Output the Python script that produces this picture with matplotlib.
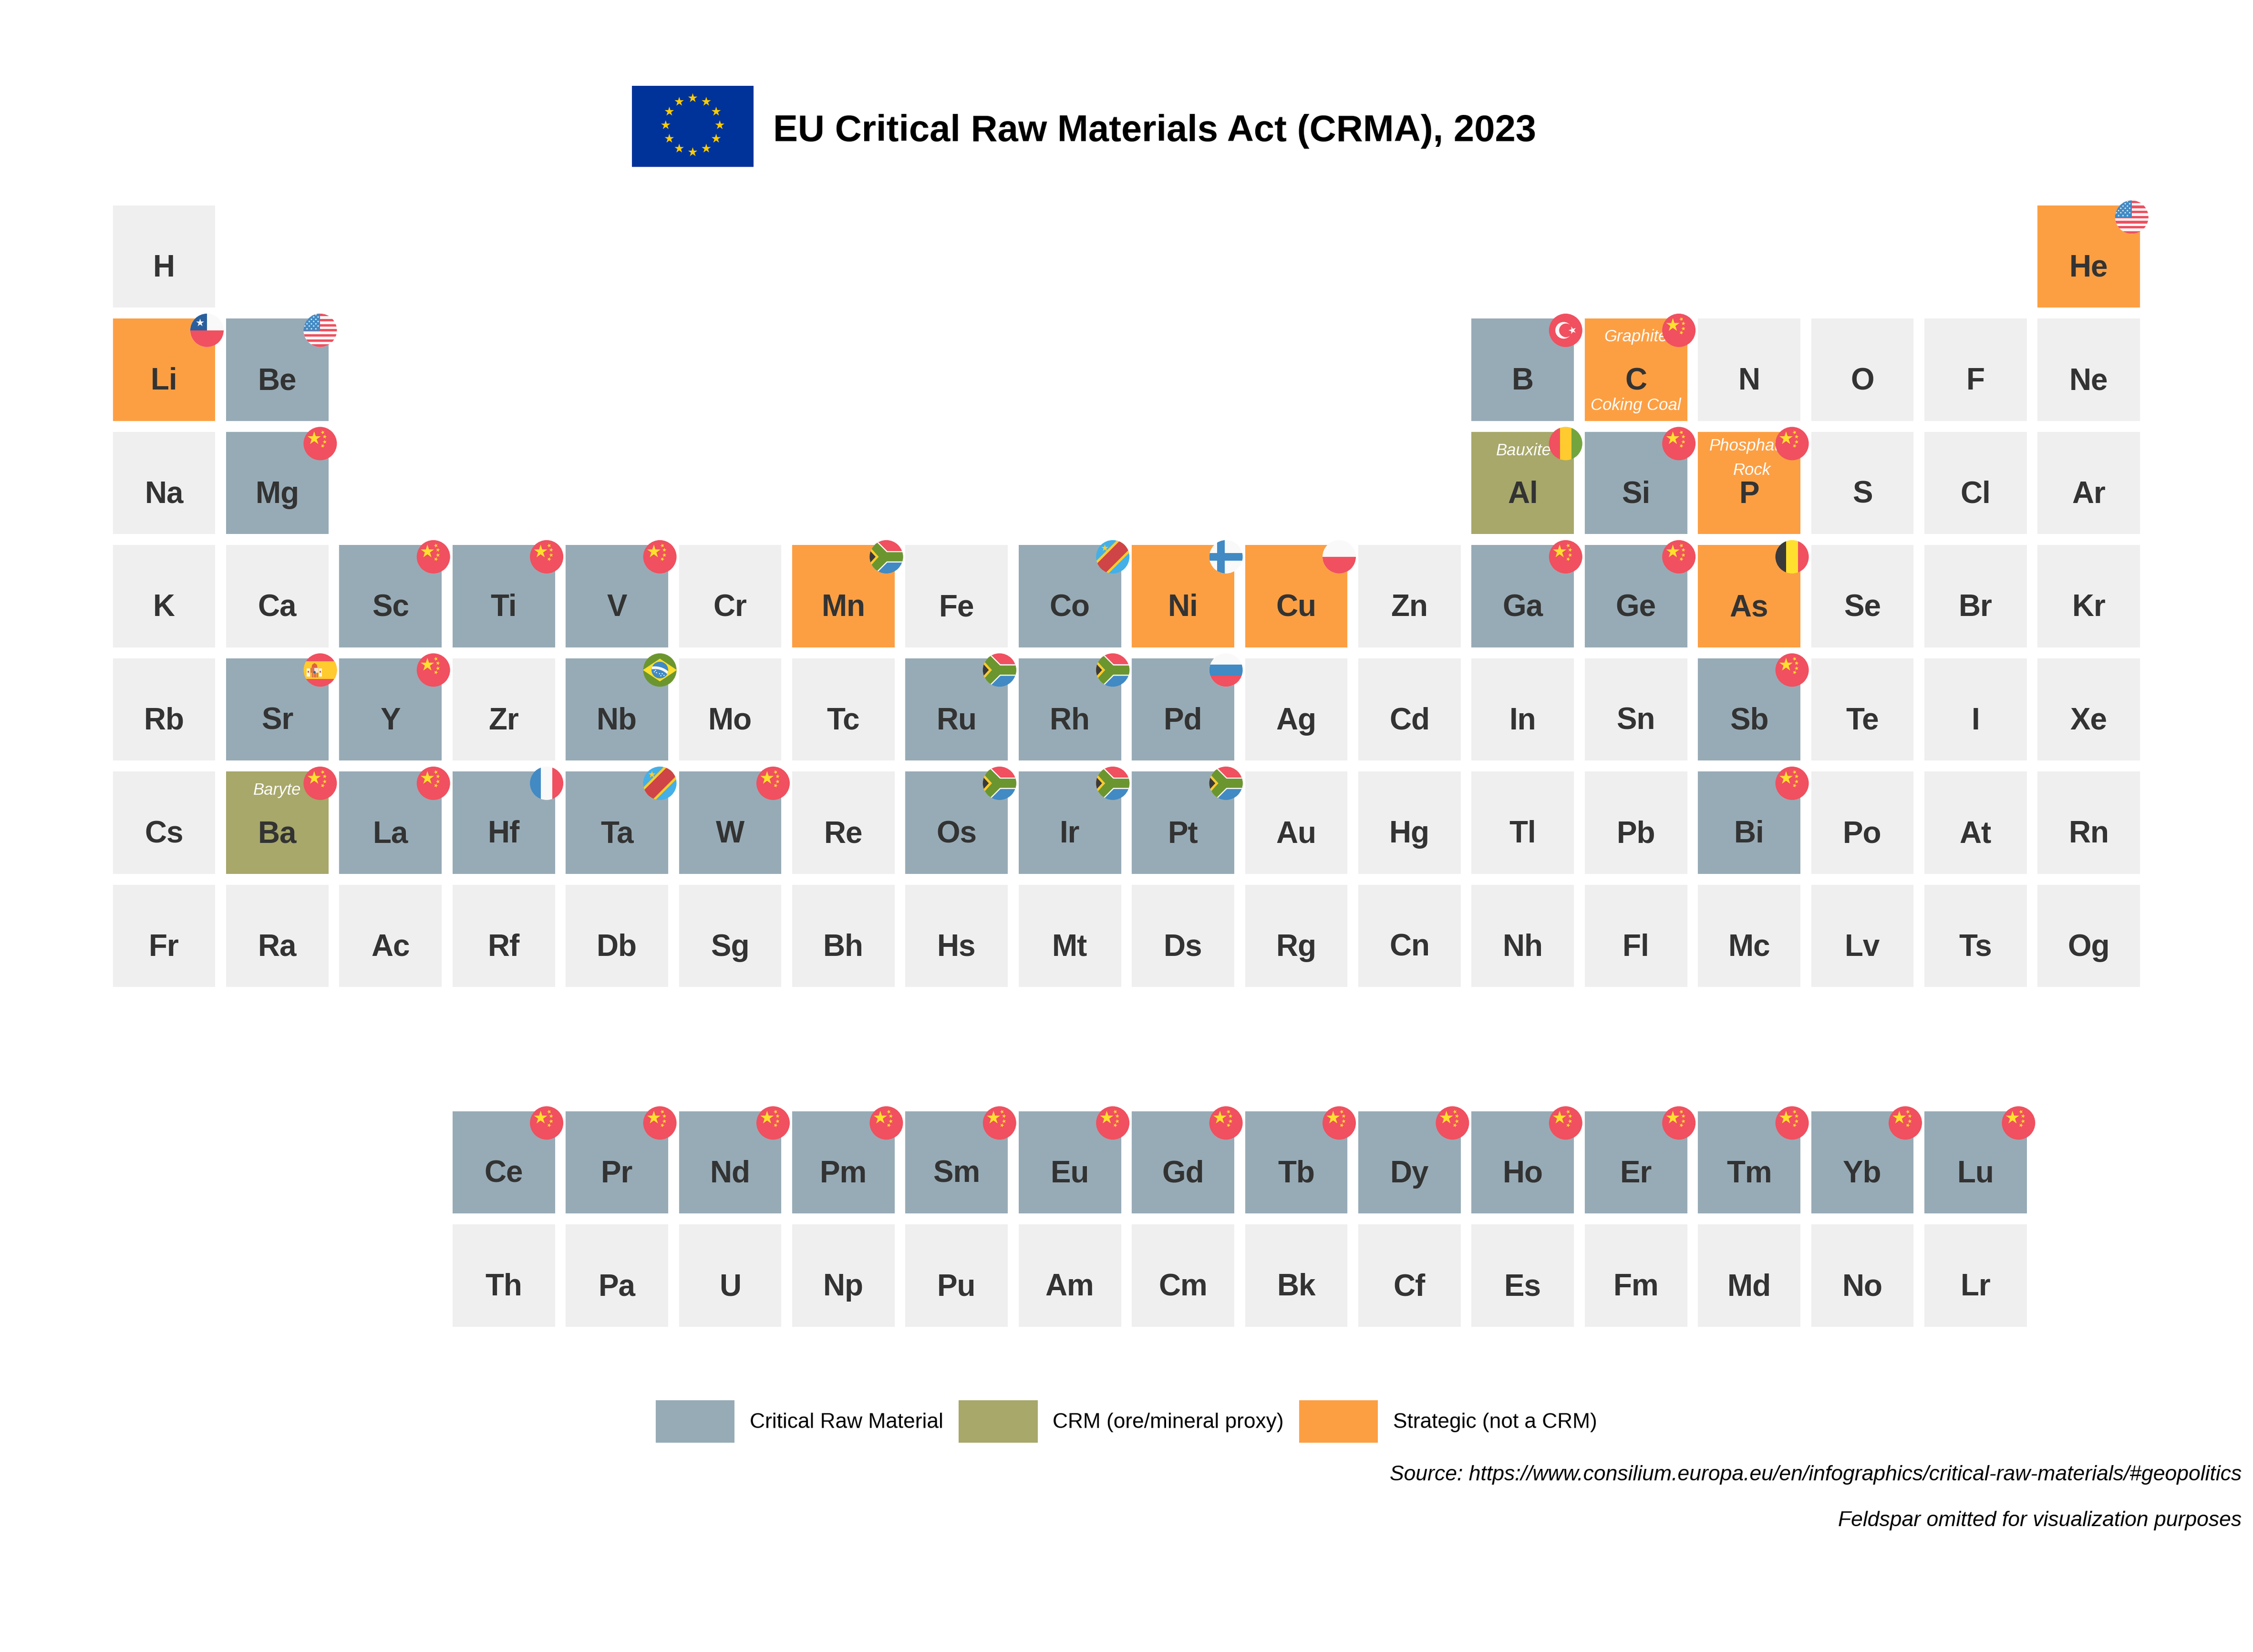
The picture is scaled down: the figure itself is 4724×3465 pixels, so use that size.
import numpy as np
import matplotlib
matplotlib.use("Agg")
import matplotlib.pyplot as plt
from matplotlib.patches import Rectangle, Circle, Polygon, Wedge, Patch
from matplotlib.lines import Line2D
from matplotlib.transforms import Affine2D

plt.rcParams['font.family'] = ['Liberation Sans', 'DejaVu Sans']

# ---------- data ----------
title = "EU Critical Raw Materials Act (CRMA), 2023"
source_lines = ["Source: https://www.consilium.europa.eu/en/infographics/critical-raw-materials/#geopolitics",
                "Feldspar omitted for visualization purposes"]
period_1 = ["H", "He"]
period_2 = ["Li", "Be", "B", "C", "N", "O", "F", "Ne"]
period_3 = ["Na", "Mg", "Al", "Si", "P", "S", "Cl", "Ar"]
period_4 = ["K", "Ca", "Sc", "Ti", "V", "Cr", "Mn", "Fe", "Co", "Ni", "Cu", "Zn", "Ga", "Ge", "As", "Se", "Br", "Kr"]
period_5 = ["Rb", "Sr", "Y", "Zr", "Nb", "Mo", "Tc", "Ru", "Rh", "Pd", "Ag", "Cd", "In", "Sn", "Sb", "Te", "I", "Xe"]
period_6 = ["Cs", "Ba", "La", "Hf", "Ta", "W", "Re", "Os", "Ir", "Pt", "Au", "Hg", "Tl", "Pb", "Bi", "Po", "At", "Rn"]
period_7 = ["Fr", "Ra", "Ac", "Rf", "Db", "Sg", "Bh", "Hs", "Mt", "Ds", "Rg", "Cn", "Nh", "Fl", "Mc", "Lv", "Ts", "Og"]
lanthanides = ["Ce", "Pr", "Nd", "Pm", "Sm", "Eu", "Gd", "Tb", "Dy", "Ho", "Er", "Tm", "Yb", "Lu"]
actinides = ["Th", "Pa", "U", "Np", "Pu", "Am", "Cm", "Bk", "Cf", "Es", "Fm", "Md", "No", "Lr"]

crm = ["Be", "B", "Mg", "Si", "Sc", "Ti", "V", "Co", "Ga", "Ge", "Sr", "Y", "Nb", "Ru", "Rh", "Pd", "Sb",
       "La", "Hf", "Ta", "W", "Os", "Ir", "Pt", "Bi"] + lanthanides
proxy = ["Al", "Ba"]
strategic = ["He", "Li", "C", "P", "Mn", "Ni", "Cu", "As"]

legend_labels = ["Critical Raw Material", "CRM (ore/mineral proxy)", "Strategic (not a CRM)"]

sublabels = {"C": ["Graphite", "Coking Coal"], "Al": ["Bauxite"], "P": ["Phosphate", "Rock"], "Ba": ["Baryte"]}

flag_china = ["C", "Mg", "Si", "P", "Sc", "Ti", "V", "Ga", "Ge", "Y", "Sb", "Ba", "La", "W", "Bi"] + lanthanides
flag_usa = ["He", "Be"]
flag_chile = ["Li"]
flag_turkey = ["B"]
flag_guinea = ["Al"]
flag_south_africa = ["Mn", "Ru", "Rh", "Os", "Ir", "Pt"]
flag_drc = ["Co", "Ta"]
flag_finland = ["Ni"]
flag_poland = ["Cu"]
flag_belgium = ["As"]
flag_spain = ["Sr"]
flag_brazil = ["Nb"]
flag_russia = ["Pd"]
flag_france = ["Hf"]

# ---------- styles ----------
C_CRM, C_PROXY, C_STRAT, C_NONE = "#97ABB6", "#A7A86A", "#FC9F43", "#EFEFEF"
RED, BLUE, YEL, GOLD, GREEN, WHITE, DARK = "#F0505F", "#418AC4", "#FFE02E", "#FFCB2E", "#6B962F", "#F9F9F9", "#3A3A3A"
W_PX, H_PX = 4724, 3465
DPI = 300
PITCH_X, PITCH_Y = 237.4, 237.5     # pixels per grid unit
X0, Y0 = 106.6, 300.5                # pixel position of grid (0, 0)
CELL = 0.905
R = 0.1474
FLAG_DX, FLAG_DY = 0.379, -0.348
SUB_OFFSETS = {"Graphite": -0.2526, "Coking Coal": 0.355, "Bauxite": -0.245,
               "Phosphate": -0.285, "Rock": -0.072, "Baryte": -0.245}
SUB_SHIFT = {"Rock": 0.025, "Bauxite": 0.01}
SYMBOL_SIZE = 15.3
LEGEND_SIZE = 10.62
SOURCE_SIZE = 10.68

fig = plt.figure(figsize=(W_PX / DPI, H_PX / DPI), dpi=DPI, facecolor="white")
ax = fig.add_axes([0, 0, 1, 1])
ax.set_xlim(-X0 / PITCH_X, (W_PX - X0) / PITCH_X)
ax.set_ylim((H_PX - Y0) / PITCH_Y, -Y0 / PITCH_Y)
ax.axis("off")

# ---------- grid ----------
positions = {}
positions[period_1[0]] = (1, 1)
positions[period_1[1]] = (18, 1)
for row, syms in ((2, period_2), (3, period_3)):
    for s, c in zip(syms, [1, 2, 13, 14, 15, 16, 17, 18]):
        positions[s] = (c, row)
for row, syms in ((4, period_4), (5, period_5), (6, period_6), (7, period_7)):
    for c, s in enumerate(syms, start=1):
        positions[s] = (c, row)
for row, syms in ((9, lanthanides), (10, actinides)):
    for c, s in enumerate(syms, start=4):
        positions[s] = (c, row)


def cell_colour(s):
    if s in crm:
        return C_CRM
    if s in proxy:
        return C_PROXY
    if s in strategic:
        return C_STRAT
    return C_NONE


for s, (c, r) in positions.items():
    ax.add_patch(Rectangle((c - CELL / 2, r - CELL / 2), CELL, CELL, fc=cell_colour(s), ec="none", zorder=1))
    ax.text(c, r + 0.175, s, ha="center", va="baseline", fontsize=SYMBOL_SIZE, fontweight="bold",
            color="#333333", zorder=3)

for s, lines in sublabels.items():
    c, r = positions[s]
    for line in lines:
        ax.text(c + SUB_SHIFT.get(line, 0), r + SUB_OFFSETS[line], line, ha="center", va="baseline", fontsize=8.35,
                style="italic", color="white", zorder=2)


# ---------- flags ----------
def star_xy(cx, cy, r, rot=90.0):
    a = np.deg2rad(rot + np.arange(10) * 36.0)
    rad = np.where(np.arange(10) % 2 == 0, r, r * 0.382)
    return np.column_stack([cx + rad * np.cos(a), cy + rad * np.sin(a)])


class Flag:
    def __init__(self, s):
        c, r = positions[s]
        self.t = Affine2D().scale(R, -R).translate(c + FLAG_DX, r + FLAG_DY) + ax.transData
        self.clip = Circle((0, 0), 1.0, transform=self.t)

    def add(self, p):
        p.set_transform(self.t)
        p.set_zorder(5)
        ax.add_artist(p)
        p.set_clip_path(self.clip)
        return p

    def bg(self, col):
        self.add(Rectangle((-1.1, -1.1), 2.2, 2.2, fc=col, ec="none"))

    def rect(self, x0, x1, y0, y1, col):
        self.add(Rectangle((x0, y0), x1 - x0, y1 - y0, fc=col, ec="none"))

    def star(self, x, y, r, col, rot=90.0):
        self.add(Polygon(star_xy(x, y, r, rot), closed=True, fc=col, ec="none"))

    def poly(self, pts, col):
        self.add(Polygon(np.array(pts), closed=True, fc=col, ec="none"))

    def circ(self, x, y, r, col):
        return self.add(Circle((x, y), r, fc=col, ec="none"))

    def line(self, xs, ys, col, width):
        ln = Line2D(xs, ys, color=col, lw=width * R * PITCH_X * 72 / DPI, solid_joinstyle="miter",
                    solid_capstyle="butt")
        self.add(ln)


def china(f):
    f.bg(RED)
    f.star(-0.36, 0.31, 0.42, YEL)
    for x, y, rot in ((0.15, 0.67, 110), (0.27, 0.41, 80), (0.27, 0.10, 100), (0.15, -0.14, 70)):
        f.star(x, y, 0.13, YEL, rot)


def usa(f):
    f.bg(WHITE)
    for i in range(-3, 4):
        f.rect(-1.1, 1.1, i * 0.305 - 0.075, i * 0.305 + 0.075, RED)
    f.rect(-1.1, 0, -0.02, 1.1, BLUE)
    for row, y in enumerate((0.09, 0.26, 0.39, 0.53, 0.66, 0.80, 0.94)):
        xs = np.arange(-0.79, 0, 0.265) if row % 2 == 0 else np.arange(-0.92, 0, 0.265)
        for x in xs:
            f.star(x, y, 0.07, WHITE)


def chile(f):
    f.bg(WHITE)
    f.rect(-1.1, 0, 0, 1.1, "#2A5F9E")
    f.rect(-1.1, 1.1, -1.1, 0, RED)
    f.star(-0.41, 0.45, 0.25, WHITE)


def turkey(f):
    f.bg(RED)
    f.circ(-0.12, 0.0, 0.5, WHITE)
    f.circ(0.02, 0.0, 0.41, RED)
    f.star(0.41, 0.0, 0.24, WHITE, 90 + 18 + 72)


def triband_v(f, a, b, c, w=0.35):
    f.rect(-1.1, -w, -1.1, 1.1, a)
    f.rect(-w, w, -1.1, 1.1, b)
    f.rect(w, 1.1, -1.1, 1.1, c)


def guinea(f):
    triband_v(f, RED, GOLD, "#73A53F")


def belgium(f):
    triband_v(f, DARK, YEL, RED)


def france(f):
    triband_v(f, BLUE, WHITE, RED)


def russia(f):
    f.bg(WHITE)
    f.rect(-1.1, 1.1, -0.33, 0.33, BLUE)
    f.rect(-1.1, 1.1, -1.1, -0.33, RED)


def poland(f):
    f.bg(WHITE)
    f.rect(-1.1, 1.1, -1.1, 0, RED)


def finland(f):
    f.bg(WHITE)
    f.rect(-1.1, 1.1, -0.22, 0.22, BLUE)
    f.rect(-0.52, -0.08, -1.1, 1.1, BLUE)


def south_africa(f):
    f.rect(-1.1, 1.1, 0, 1.1, RED)
    f.rect(-1.1, 1.1, -1.1, 0, BLUE)
    ux, ex = -0.08, 1.2
    for col, w in ((WHITE, 0.68), (GREEN, 0.54)):
        f.line([-1.2, ux, ex], [1.12, 0, 0], col, w)
        f.line([-1.2, ux, ex], [-1.12, 0, 0], col, w)
    f.poly([(-1.1, 0.72), (-0.46, 0), (-1.1, -0.72)], GOLD)
    f.poly([(-1.1, 0.5), (-0.64, 0), (-1.1, -0.5)], DARK)


def drc(f):
    f.bg("#44B0E7")
    for hw, col in ((0.37, GOLD), (0.27, "#CF4446")):
        f.poly([(-1.5 + hw, -1.5 - hw), (1.5 + hw, 1.5 - hw), (1.5 - hw, 1.5 + hw), (-1.5 - hw, -1.5 + hw)], col)
    f.star(-0.47, 0.52, 0.22, GOLD)


def spain(f):
    f.bg(RED)
    f.rect(-1.1, 1.1, -0.52, 0.52, GOLD)
    # pillars
    f.rect(-0.80, -0.62, -0.40, 0.09, WHITE)
    f.rect(-0.07, 0.10, -0.40, 0.09, WHITE)
    f.rect(-0.76, -0.66, -0.16, -0.06, "#D9604F")
    f.rect(-0.03, 0.06, -0.16, -0.06, "#D9604F")
    # crown
    f.poly([(-0.52, 0.13), (-0.48, 0.32), (-0.34, 0.42), (-0.20, 0.32), (-0.16, 0.13)], "#E0603F")
    # shield
    f.rect(-0.58, -0.10, -0.44, 0.13, "#E8B04A")
    f.rect(-0.34, -0.10, -0.15, 0.13, "#F3E3DC")
    f.rect(-0.58, -0.34, -0.15, 0.13, "#D9784F")
    f.rect(-0.46, -0.40, -0.44, -0.15, "#E0603F")
    f.rect(-0.34, -0.28, -0.44, -0.15, "#E0603F")
    f.rect(-0.22, -0.16, -0.44, -0.15, "#E0603F")
    f.circ(-0.34, -0.13, 0.07, "#42607F")


def brazil(f):
    f.bg(GREEN)
    f.poly([(-1.02, 0), (0, 0.68), (1.02, 0), (0, -0.68)], YEL)
    blue = f.circ(0, 0, 0.5, BLUE)
    band = Wedge((-0.3, -1.0), 1.22, 30, 100, width=0.16, fc=WHITE, ec="none")
    f.add(band)
    band.set_clip_path(blue)
    for x, y in ((-0.33, -0.10), (-0.2, -0.16), (-0.02, -0.22), (0.14, -0.22), (0.25, -0.32),
                 (0.06, -0.34), (-0.26, -0.02)):
        f.circ(x, y, 0.035, WHITE)


flag_groups = [(flag_china, china), (flag_usa, usa), (flag_chile, chile), (flag_turkey, turkey),
               (flag_guinea, guinea), (flag_south_africa, south_africa), (flag_drc, drc),
               (flag_finland, finland), (flag_poland, poland), (flag_belgium, belgium),
               (flag_spain, spain), (flag_brazil, brazil), (flag_russia, russia), (flag_france, france)]
for syms, painter in flag_groups:
    for s in syms:
        painter(Flag(s))

# ---------- title & EU flag ----------
fig.text(1621 / W_PX, 1 - 296 / H_PX, title, ha="left", va="baseline", fontsize=18.68, fontweight="bold", color="black")

eu = fig.add_axes([1325 / W_PX, 1 - 350 / H_PX, 255 / W_PX, 170 / H_PX])
eu.set_xlim(-1.5, 1.5)
eu.set_ylim(-1, 1)
eu.axis("off")
eu.add_patch(Rectangle((-1.5, -1), 3, 2, fc="#003399", ec="none"))
for k in range(12):
    a = np.deg2rad(90 - 30 * k)
    eu.add_patch(Polygon(star_xy(0.667 * np.cos(a), 0.667 * np.sin(a) + 0.03, 0.12), closed=True, fc="#FFCC00", ec="none"))

# ---------- legend ----------
handles = [Patch(fc=C_CRM, ec="none"), Patch(fc=C_PROXY, ec="none"), Patch(fc=C_STRAT, ec="none")]
fig.legend(handles, legend_labels, ncol=3, loc="lower left", frameon=False,
           bbox_to_anchor=(1375 / W_PX, 1 - 3026 / H_PX), borderaxespad=0, borderpad=0,
           fontsize=LEGEND_SIZE, handlelength=3.74, handleheight=2.72, handletextpad=0.72, columnspacing=0.72)

# ---------- source ----------
for txt, y in zip(source_lines, (3105, 3201)):
    fig.text(4700 / W_PX, 1 - y / H_PX, txt, ha="right", va="baseline", fontsize=SOURCE_SIZE, style="italic", color="black")

fig.savefig("out.png", dpi=DPI)
